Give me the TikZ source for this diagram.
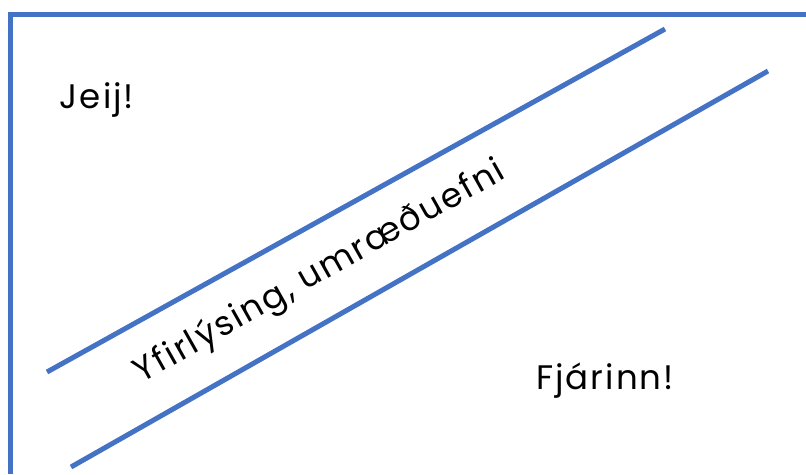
\documentclass[tikz,border=0pt]{standalone}
\usepackage{fontspec}
\setmainfont{Poppins}[LetterSpace=6]
\usetikzlibrary{positioning}
\definecolor{frameblue}{HTML}{4472C4}

\begin{document}
\begin{tikzpicture}[x=1pt, y=-1pt,
                    bar/.style={draw=frameblue, line width=5pt},
                    word/.style={font=\fontsize{34}{40}\selectfont, text=black, inner sep=0pt}]
\useasboundingbox (0,0) rectangle (806,474);
% frame
\draw[bar] (10,474) -- (10,14) -- (806,14);
% the two slanted lines
\coordinate (ua) at (47,372);
\coordinate (ub) at (665,29);
\coordinate (la) at (71,467);
\coordinate (lb) at (768,71);
\draw[bar] (ua) -- (ub);
\draw[bar] (la) -- (lb);
% texts
\node[word] (jeij) at (97,100) {Jeij!};
\node[word] (fjarinn) at (605,381) {Fjárinn!};
\node[word, rotate=29.4] (yfir) at (320,273) {Yfirlýsing, umræðuefni};
\end{tikzpicture}
\end{document}
